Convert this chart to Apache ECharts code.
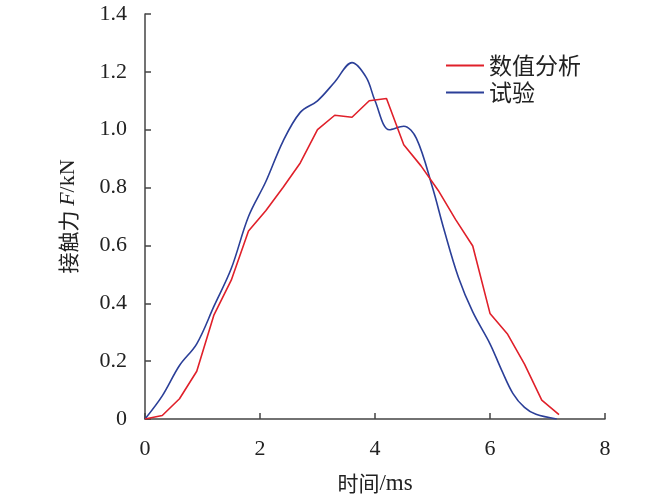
<!DOCTYPE html>
<html><head><meta charset="utf-8">
<script src="https://cdn.jsdelivr.net/npm/echarts@6/dist/echarts.min.js"></script>
<style>html,body{margin:0;padding:0;background:#fff}#c{width:670px;height:500px}</style>
</head><body><div id="c"></div>
<script>
const xTicks = [0, 2, 4, 6, 8];
const yTicks = [0, 0.2, 0.4, 0.6, 0.8, 1.0, 1.2, 1.4];
const numTime = [0, 0.3, 0.6, 0.9, 1.2, 1.5, 1.8, 2.1, 2.4, 2.7, 3.0, 3.3, 3.6, 3.9, 4.2, 4.5, 4.8, 5.1, 5.4, 5.7, 6.0, 6.3, 6.6, 6.9, 7.2];
const numForce = [0, 0.012, 0.07, 0.165, 0.36, 0.48, 0.65, 0.72, 0.80, 0.885, 1.0, 1.05, 1.043, 1.10, 1.108, 0.948, 0.875, 0.79, 0.69, 0.598, 0.365, 0.295, 0.19, 0.065, 0.015];
const expTime = [0, 0.3, 0.6, 0.9, 1.2, 1.5, 1.8, 2.1, 2.4, 2.7, 3.0, 3.3, 3.6, 3.85, 4.0, 4.25, 4.5, 4.72, 5.0, 5.2, 5.45, 5.7, 6.0, 6.2, 6.4, 6.6, 6.8, 7.16];
const expForce = [0, 0.08, 0.185, 0.26, 0.39, 0.52, 0.70, 0.82, 0.96, 1.06, 1.10, 1.165, 1.232, 1.18, 1.10, 1.0, 1.012, 0.97, 0.80, 0.655, 0.49, 0.37, 0.26, 0.17, 0.088, 0.04, 0.016, 0];
const names = ['数值分析', '试验'];

const zip = (a, b) => a.map((v, i) => [v, b[i]]);
const chart = echarts.init(document.getElementById('c'));
const serif = '"Liberation Serif", "Times New Roman", serif';
const cjk = '"Noto Sans CJK SC", sans-serif';
const axisColor = '#444';
chart.setOption({
  animation: false,
  backgroundColor: '#fff',
  grid: { left: 145, right: 65, top: 14, bottom: 81, containLabel: false, outerBoundsMode: 'none' },
  legend: {
    right: 84, top: 49, orient: 'vertical', itemWidth: 38, itemHeight: 2, itemGap: 4,
    icon: 'rect',
    textStyle: { fontFamily: cjk, fontSize: 23, color: '#222' },
    data: names
  },
  xAxis: {
    type: 'value', min: 0, max: 8, interval: 2,
    name: '{c|时间}{s|/ms}', nameLocation: 'middle', nameGap: 53,
    nameTextStyle: { fontSize: 21, color: '#222',
      rich: {
        c: { fontFamily: cjk, fontSize: 21, color: '#222' },
        s: { fontFamily: serif, fontSize: 23, color: '#222' }
      } },
    axisLine: { lineStyle: { color: axisColor, width: 1.5 } },
    axisTick: { inside: true, length: 6, lineStyle: { color: axisColor, width: 1.5 } },
    axisLabel: { fontFamily: serif, fontSize: 22, color: '#222', margin: 19,
      formatter: v => xTicks.includes(v) ? String(v) : '' },
    splitLine: { show: false }
  },
  yAxis: {
    type: 'value', min: 0, max: 1.4, interval: 0.2,
    name: '{c|接触力 }{i|F}{s|/kN}', nameLocation: 'middle', nameGap: 66,
    nameTextStyle: { fontSize: 21, color: '#222',
      rich: {
        c: { fontFamily: cjk, fontSize: 21, color: '#222' },
        i: { fontFamily: serif, fontStyle: 'italic', fontSize: 22, color: '#222' },
        s: { fontFamily: serif, fontSize: 22, color: '#222' }
      } },
    axisLine: { show: true, lineStyle: { color: axisColor, width: 1.5 } },
    axisTick: { show: true, inside: true, length: 6, lineStyle: { color: axisColor, width: 1.5 } },
    axisLabel: { fontFamily: serif, fontSize: 22, color: '#222', margin: 18,
      formatter: v => { const t = yTicks.find(y => Math.abs(y - v) < 1e-6); return t === undefined ? '' : (t === 0 ? '0' : t.toFixed(1)); } },
    splitLine: { show: false }
  },
  series: [
    { name: names[0], type: 'line', data: zip(numTime, numForce), showSymbol: false, symbol: 'none',
      lineStyle: { color: '#e0202a', width: 1.6 }, itemStyle: { color: '#e0202a' }, z: 3 },
    { name: names[1], type: 'line', data: zip(expTime, expForce), showSymbol: false, symbol: 'none', smooth: 0.35,
      lineStyle: { color: '#2b3f98', width: 1.6 }, itemStyle: { color: '#2b3f98' }, z: 2 }
  ]
});
</script></body></html>
